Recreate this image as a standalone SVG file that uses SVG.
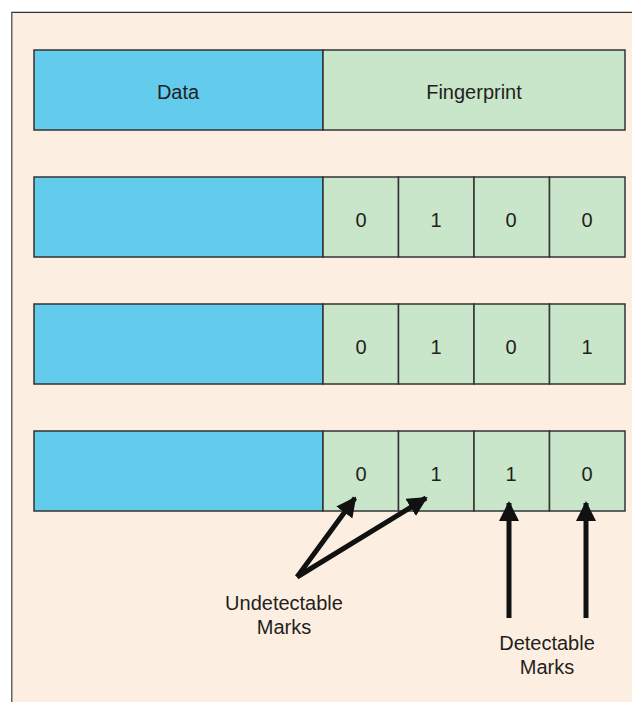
<svg xmlns="http://www.w3.org/2000/svg" width="632" height="702" viewBox="0 0 632 702">
<defs>
<style>
.data{fill:#63cbec;stroke:#333;stroke-width:1.5}
.fp{fill:#c9e5ca;stroke:#333;stroke-width:1.5}
.t{font-family:"Liberation Sans",Arial,sans-serif;font-size:20px;fill:#231f20;text-anchor:middle}
.arr{stroke:#111;stroke-width:5;fill:none}
</style>
<marker id="ah" viewBox="0 0 10 10" refX="9" refY="5" markerWidth="4" markerHeight="4" markerUnits="strokeWidth" orient="auto">
<path d="M0,0 L10,5 L0,10 z" fill="#111"/>
</marker>
</defs>
<rect width="632" height="702" fill="#fff"/>
<path d="M12,702 V12.5 H632" fill="#fdeee2" stroke="#333" stroke-width="1.5"/>
<rect x="12.5" y="13" width="620" height="690" fill="#fdeee2"/>
<g id="row1">
<rect class="data" x="34" y="50" width="289" height="80"/>
<rect class="fp" x="323" y="50" width="302" height="80"/>
<text class="t" x="178" y="99">Data</text>
<text class="t" x="474" y="99">Fingerprint</text>
</g>
<g id="row2">
<rect class="data" x="34" y="177" width="289" height="80"/>
<rect class="fp" x="323" y="177" width="75.5" height="80"/>
<rect class="fp" x="398.5" y="177" width="75.5" height="80"/>
<rect class="fp" x="474" y="177" width="75.5" height="80"/>
<rect class="fp" x="549.5" y="177" width="75.5" height="80"/>
<text class="t" x="361" y="227">0</text>
<text class="t" x="436" y="227">1</text>
<text class="t" x="511" y="227">0</text>
<text class="t" x="587" y="227">0</text>
</g>
<g id="row3">
<rect class="data" x="34" y="304" width="289" height="80"/>
<rect class="fp" x="323" y="304" width="75.5" height="80"/>
<rect class="fp" x="398.5" y="304" width="75.5" height="80"/>
<rect class="fp" x="474" y="304" width="75.5" height="80"/>
<rect class="fp" x="549.5" y="304" width="75.5" height="80"/>
<text class="t" x="361" y="354">0</text>
<text class="t" x="436" y="354">1</text>
<text class="t" x="511" y="354">0</text>
<text class="t" x="587" y="354">1</text>
</g>
<g id="row4">
<rect class="data" x="34" y="431" width="289" height="80"/>
<rect class="fp" x="323" y="431" width="75.5" height="80"/>
<rect class="fp" x="398.5" y="431" width="75.5" height="80"/>
<rect class="fp" x="474" y="431" width="75.5" height="80"/>
<rect class="fp" x="549.5" y="431" width="75.5" height="80"/>
<text class="t" x="361" y="481">0</text>
<text class="t" x="436" y="481">1</text>
<text class="t" x="511" y="481">1</text>
<text class="t" x="587" y="481">0</text>
</g>
<g id="undetectable">
<text class="t" x="284" y="610">Undetectable</text>
<text class="t" x="284" y="634">Marks</text>
</g>
<g id="detectable">
<text class="t" x="547" y="650">Detectable</text>
<text class="t" x="547" y="674">Marks</text>
</g>
<g id="connectors">
<path class="arr" d="M297,577 L355,498" marker-end="url(#ah)"/>
<path class="arr" d="M297,577 L426,498" marker-end="url(#ah)"/>
<path class="arr" d="M509,618 V503" marker-end="url(#ah)"/>
<path class="arr" d="M586,618 V503" marker-end="url(#ah)"/>
</g>
</svg>
